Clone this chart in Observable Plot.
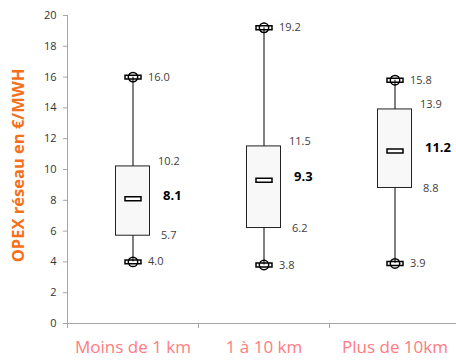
<!DOCTYPE html>
<html><head><meta charset="utf-8">
<script src="https://cdn.jsdelivr.net/npm/d3@7"></script>
<script src="https://cdn.jsdelivr.net/npm/@observablehq/plot@0.6"></script>
<style>body{margin:0;background:#fff}</style>
</head><body><div id="chart"></div>
<script>
const categories = ["Moins de 1 km", "1 à 10 km", "Plus de 10km"];
const minV = [4.0, 3.8, 3.9];
const q1V  = [5.7, 6.2, 8.8];
const medV = [8.1, 9.3, 11.2];
const q3V  = [10.2, 11.5, 13.9];
const maxV = [16.0, 19.2, 15.8];
const yTicks = [0, 2, 4, 6, 8, 10, 12, 14, 16, 18, 20];
const yTitle = "OPEX réseau en €/MWH";

const data = categories.map((c, i) => ({cat: c, min: minV[i], q1: q1V[i], med: medV[i], q3: q3V[i], max: maxV[i]}));

const x0 = 67, x1 = 460;
const bw = (x1 - x0) / categories.length;
const boxW = 34;
const font = "'Open Sans', 'Liberation Sans', sans-serif";

const capSymbol = {draw(ctx, size) {
  const r = Math.sqrt(size / Math.PI);
  ctx.moveTo(r, 0); ctx.arc(0, 0, r, 0, 2 * Math.PI);
  ctx.rect(-1.7 * r, -0.42 * r, 3.4 * r, 0.84 * r);
}};
const medSymbol = {draw(ctx, size) {
  const r = Math.sqrt(size / Math.PI);
  ctx.rect(-1.6 * r, -0.4 * r, 3.2 * r, 0.8 * r);
}};

const txt = {fontSize: 11, fill: "#404040", textAnchor: "start", fontFamily: font};

const chart = Plot.plot({
  width: 456, height: 363,
  marginLeft: 67, marginTop: 15, marginBottom: 40, marginRight: 0,
  style: {fontFamily: font, background: "#fff"},
  x: {domain: categories, range: [x0, x1], padding: 0},
  y: {domain: [0, 20], range: [323, 15]},
  marks: [
    Plot.axisY({ticks: yTicks, tickSize: 4, tickPadding: 7, stroke: "#A6A6A6", fill: "#333", fontSize: 11, label: null}),
    Plot.axisX({tickSize: 5, tickFormat: () => "", dx: -bw / 2, stroke: "#A6A6A6", label: null}),
    Plot.axisX({tickSize: 0, tickPadding: 17, fontSize: 17, fill: "#FF7C80", label: null}),
    Plot.ruleY([0], {stroke: "#A6A6A6"}),
    Plot.ruleX([categories[0]], {x: d => d, dx: -bw / 2, y1: 0, y2: 20, stroke: "#A6A6A6"}),
    Plot.ruleX(data, {x: "cat", y1: "min", y2: "max", stroke: "#000"}),
    Plot.barY(data, {x: "cat", y1: "q1", y2: "q3", fill: "#F8F8F8", stroke: "#222", insetLeft: (bw - boxW) / 2, insetRight: (bw - boxW) / 2}),
    Plot.dot(data, {x: "cat", y: "min", r: 4.7, symbol: capSymbol, stroke: "#000", fill: "none"}),
    Plot.dot(data, {x: "cat", y: "max", r: 4.7, symbol: capSymbol, stroke: "#000", fill: "none"}),
    Plot.dot(data, {x: "cat", y: "med", r: 5, symbol: medSymbol, stroke: "#000", fill: "#fff"}),
    Plot.text(data, {x: "cat", y: "max", text: d => d.max.toFixed(1), dx: 15, ...txt}),
    Plot.text(data, {x: "cat", y: "min", text: d => d.min.toFixed(1), dx: 15, ...txt}),
    Plot.text(data, {x: "cat", y: "q3", text: d => d.q3.toFixed(1), dx: 25, dy: -5, ...txt}),
    Plot.text(data, {x: "cat", y: "q1", text: d => d.q1.toFixed(1), dx: 28, ...txt}),
    Plot.text(data, {x: "cat", y: "med", text: d => d.med.toFixed(1), dx: 30, dy: -3, ...txt, fontSize: 13, fontWeight: "bold", fill: "#000"}),
    Plot.text([yTitle], {frameAnchor: "left", dx: -49, dy: -4, rotate: -90, textAnchor: "middle", text: d => d, fontSize: 16.5, fontWeight: "bold", fill: "#F5701A", fontFamily: font})
  ]
});
document.getElementById("chart").appendChild(chart);
</script>
</body></html>
